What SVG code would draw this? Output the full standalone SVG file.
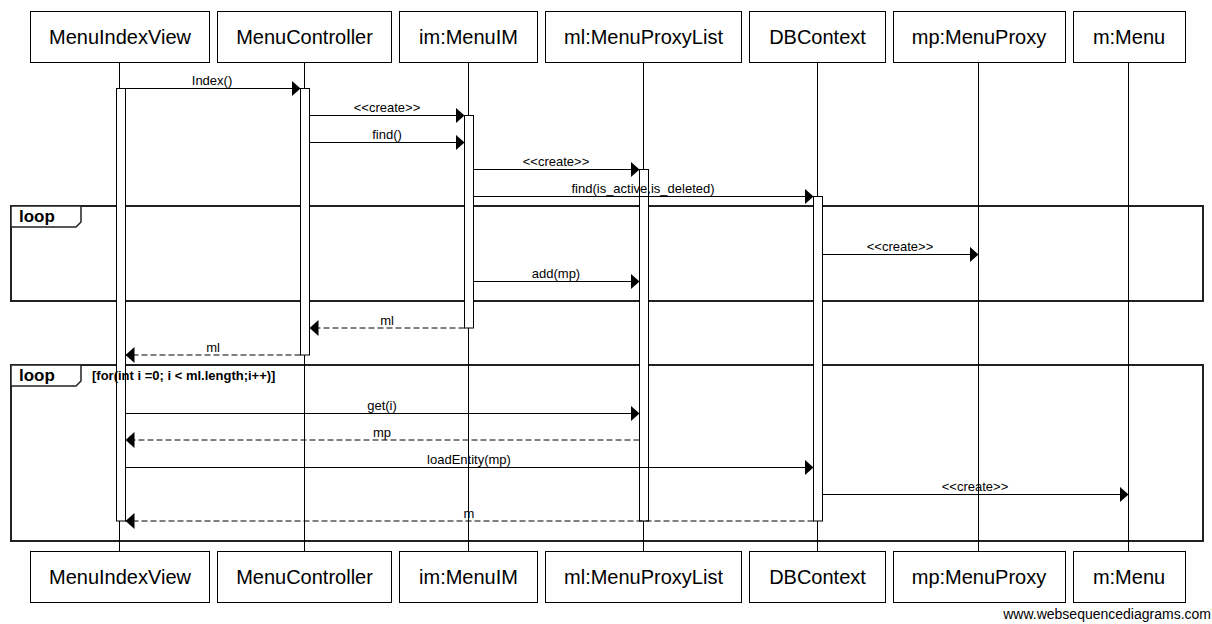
<svg xmlns="http://www.w3.org/2000/svg" width="1212" height="624" viewBox="0 0 1212 624">
<style>
.box{fill:#fff;stroke:#000;stroke-width:1}
.life{stroke:#000;stroke-width:1}
.act{fill:#fff;stroke:#000;stroke-width:1}
.pl{font-family:"Liberation Sans",Arial,sans-serif;font-size:20px;text-anchor:middle;fill:#000}
.msg{stroke:#000;stroke-width:1;fill:none;marker-end:url(#ah)}
.ret{stroke:#000;stroke-width:1;fill:none;stroke-dasharray:6,3;marker-end:url(#ah)}
.ml{font-family:"Liberation Sans",Arial,sans-serif;font-size:13px;text-anchor:middle;fill:#000}
.frame{fill:none;stroke:#222;stroke-width:2}
.tab{fill:#fff;stroke:#222;stroke-width:1.5}
.kw{font-family:"Liberation Sans",Arial,sans-serif;font-size:17px;font-weight:bold;fill:#000}
.guard{font-family:"Liberation Sans",Arial,sans-serif;font-size:13px;font-weight:bold;fill:#000}
.wm{font-family:"Liberation Sans",Arial,sans-serif;font-size:14px;text-anchor:end;fill:#000}
</style>
<defs>
<marker id="ah" markerUnits="userSpaceOnUse" markerWidth="10" markerHeight="16" refX="9" refY="8" orient="auto">
<path d="M0,0 L9,8 L0,16 z" fill="#000"/>
</marker>
</defs>
<rect width="1212" height="624" fill="#fff"/>

<g id="frames">
<rect class="frame" x="11" y="206" width="1192" height="95"/>
<path class="tab" d="M11,206 H81 V222 L76,227 H11 Z"/>
<text class="kw" x="19" y="222">loop</text>
<rect class="frame" x="11" y="365" width="1192" height="176"/>
<path class="tab" d="M11,365 H81 V381 L76,386 H11 Z"/>
<text class="kw" x="19" y="381">loop</text>
</g>

<g id="MenuIndexView">
<line class="life" x1="119.5" y1="62" x2="119.5" y2="551"/>
<rect class="box" x="30.5" y="11.5" width="179" height="51"/>
<text class="pl" x="120" y="44">MenuIndexView</text>
<rect class="box" x="30.5" y="551.5" width="179" height="51"/>
<text class="pl" x="120" y="584">MenuIndexView</text>
<rect class="act" x="116.5" y="88.5" width="9" height="432.5"/>
</g>
<g id="MenuController">
<line class="life" x1="304.5" y1="62" x2="304.5" y2="551"/>
<rect class="box" x="217.5" y="11.5" width="174" height="51"/>
<text class="pl" x="304.5" y="44">MenuController</text>
<rect class="box" x="217.5" y="551.5" width="174" height="51"/>
<text class="pl" x="304.5" y="584">MenuController</text>
<rect class="act" x="300.5" y="88.5" width="9" height="266.5"/>
</g>
<g id="im_MenuIM">
<line class="life" x1="468.5" y1="62" x2="468.5" y2="551"/>
<rect class="box" x="399.5" y="11.5" width="138" height="51"/>
<text class="pl" x="468.5" y="44">im:MenuIM</text>
<rect class="box" x="399.5" y="551.5" width="138" height="51"/>
<text class="pl" x="468.5" y="584">im:MenuIM</text>
<rect class="act" x="464.5" y="115.5" width="9" height="212.5"/>
</g>
<g id="ml_MenuProxyList">
<line class="life" x1="643.5" y1="62" x2="643.5" y2="551"/>
<rect class="box" x="545.5" y="11.5" width="196" height="51"/>
<text class="pl" x="643.5" y="44">ml:MenuProxyList</text>
<rect class="box" x="545.5" y="551.5" width="196" height="51"/>
<text class="pl" x="643.5" y="584">ml:MenuProxyList</text>
<rect class="act" x="639.5" y="169.5" width="9" height="351.5"/>
</g>
<g id="DBContext">
<line class="life" x1="817.5" y1="62" x2="817.5" y2="551"/>
<rect class="box" x="749.5" y="11.5" width="136" height="51"/>
<text class="pl" x="817.5" y="44">DBContext</text>
<rect class="box" x="749.5" y="551.5" width="136" height="51"/>
<text class="pl" x="817.5" y="584">DBContext</text>
<rect class="act" x="813.5" y="196.5" width="9" height="324.5"/>
</g>
<g id="mp_MenuProxy">
<line class="life" x1="978.5" y1="62" x2="978.5" y2="551"/>
<rect class="box" x="893.5" y="11.5" width="172" height="51"/>
<text class="pl" x="979" y="44">mp:MenuProxy</text>
<rect class="box" x="893.5" y="551.5" width="172" height="51"/>
<text class="pl" x="979" y="584">mp:MenuProxy</text>
</g>
<g id="m_Menu">
<line class="life" x1="1128.5" y1="62" x2="1128.5" y2="551"/>
<rect class="box" x="1073.5" y="11.5" width="112" height="51"/>
<text class="pl" x="1129" y="44">m:Menu</text>
<rect class="box" x="1073.5" y="551.5" width="112" height="51"/>
<text class="pl" x="1129" y="584">m:Menu</text>
</g>

<text class="guard" x="92" y="380">[for(int i =0; i &lt; ml.length;i++)]</text>

<g id="connectors">
<line class="msg" x1="119.5" y1="88.5" x2="300.5" y2="88.5"/>
<text class="ml" x="212" y="85">Index()</text>
<line class="msg" x1="309.5" y1="115.5" x2="464.5" y2="115.5"/>
<text class="ml" x="387" y="112">&lt;&lt;create&gt;&gt;</text>
<line class="msg" x1="309.5" y1="142.5" x2="464.5" y2="142.5"/>
<text class="ml" x="387" y="139">find()</text>
<line class="msg" x1="473.5" y1="169.5" x2="639.5" y2="169.5"/>
<text class="ml" x="556" y="166">&lt;&lt;create&gt;&gt;</text>
<line class="msg" x1="473.5" y1="196.5" x2="813.5" y2="196.5"/>
<text class="ml" x="643" y="193">find(is_active,is_deleted)</text>
<line class="msg" x1="822.5" y1="254.5" x2="978.5" y2="254.5"/>
<text class="ml" x="900" y="251">&lt;&lt;create&gt;&gt;</text>
<line class="msg" x1="473.5" y1="281.5" x2="639.5" y2="281.5"/>
<text class="ml" x="556" y="278">add(mp)</text>
<line class="ret" x1="464.5" y1="328" x2="309.5" y2="328"/>
<text class="ml" x="387" y="325">ml</text>
<line class="ret" x1="300.5" y1="355" x2="125.5" y2="355"/>
<text class="ml" x="213" y="352">ml</text>
<line class="msg" x1="125.5" y1="413.5" x2="639.5" y2="413.5"/>
<text class="ml" x="382" y="410">get(i)</text>
<line class="ret" x1="639.5" y1="440" x2="125.5" y2="440"/>
<text class="ml" x="382" y="437">mp</text>
<line class="msg" x1="125.5" y1="467.5" x2="813.5" y2="467.5"/>
<text class="ml" x="469" y="464">loadEntity(mp)</text>
<line class="msg" x1="822.5" y1="494.5" x2="1128.5" y2="494.5"/>
<text class="ml" x="975" y="491">&lt;&lt;create&gt;&gt;</text>
<line class="ret" x1="813.5" y1="521" x2="125.5" y2="521"/>
<text class="ml" x="469" y="518">m</text>
</g>

<text class="wm" x="1211" y="619">www.websequencediagrams.com</text>
</svg>
